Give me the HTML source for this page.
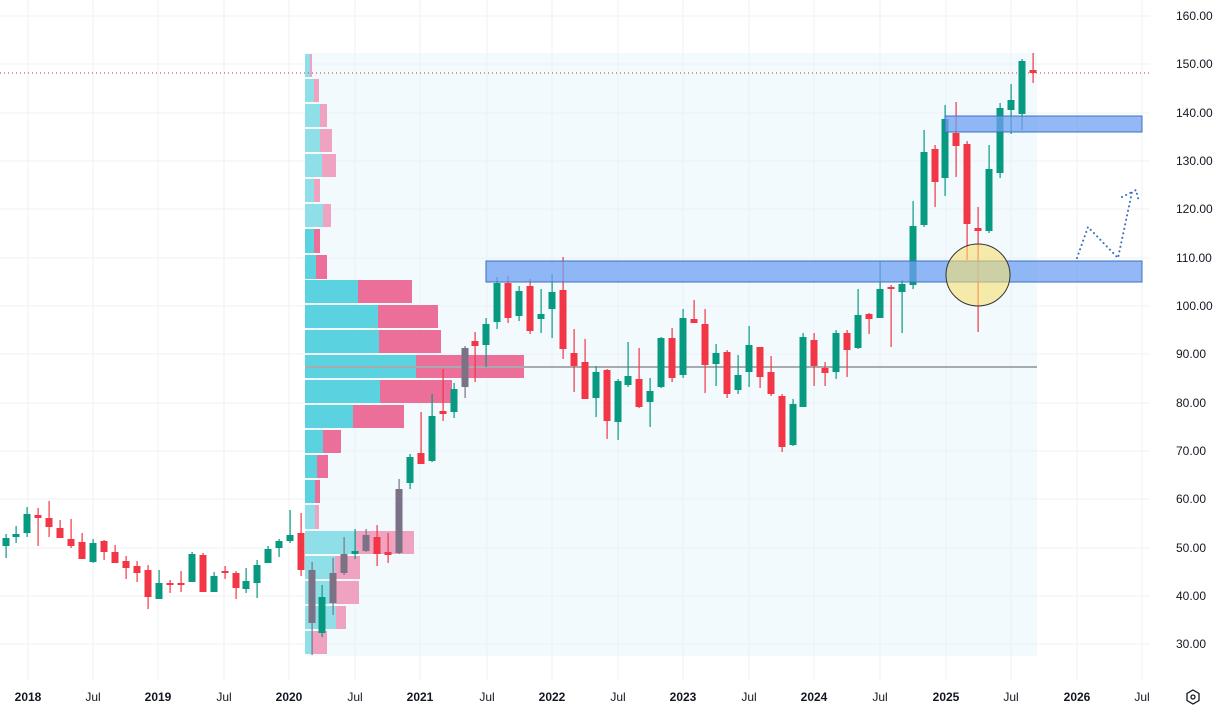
<!DOCTYPE html>
<html><head><meta charset="utf-8"><style>
html,body{margin:0;padding:0;background:#fff;}
svg{display:block;font-family:"Liberation Sans",sans-serif;}
</style></head><body>
<svg id="s" width="1218" height="712" xmlns="http://www.w3.org/2000/svg">
<rect width="1218" height="712" fill="#fff"/>
<g stroke="#eef1f5" stroke-width="1">
<line x1="28" y1="0" x2="28" y2="680"/><line x1="93" y1="0" x2="93" y2="680"/><line x1="158" y1="0" x2="158" y2="680"/><line x1="224" y1="0" x2="224" y2="680"/><line x1="289" y1="0" x2="289" y2="680"/><line x1="355" y1="0" x2="355" y2="680"/><line x1="420" y1="0" x2="420" y2="680"/><line x1="487" y1="0" x2="487" y2="680"/><line x1="552" y1="0" x2="552" y2="680"/><line x1="618" y1="0" x2="618" y2="680"/><line x1="683" y1="0" x2="683" y2="680"/><line x1="749" y1="0" x2="749" y2="680"/><line x1="814" y1="0" x2="814" y2="680"/><line x1="880" y1="0" x2="880" y2="680"/><line x1="946" y1="0" x2="946" y2="680"/><line x1="1011" y1="0" x2="1011" y2="680"/><line x1="1077" y1="0" x2="1077" y2="680"/><line x1="1142" y1="0" x2="1142" y2="680"/>
<line x1="0" y1="16" x2="1150" y2="16"/><line x1="0" y1="64" x2="1150" y2="64"/><line x1="0" y1="113" x2="1150" y2="113"/><line x1="0" y1="161" x2="1150" y2="161"/><line x1="0" y1="209" x2="1150" y2="209"/><line x1="0" y1="258" x2="1150" y2="258"/><line x1="0" y1="306" x2="1150" y2="306"/><line x1="0" y1="354" x2="1150" y2="354"/><line x1="0" y1="403" x2="1150" y2="403"/><line x1="0" y1="451" x2="1150" y2="451"/><line x1="0" y1="499" x2="1150" y2="499"/><line x1="0" y1="548" x2="1150" y2="548"/><line x1="0" y1="596" x2="1150" y2="596"/><line x1="0" y1="644" x2="1150" y2="644"/>
</g>
<rect x="305" y="53" width="732" height="603" fill="#e3f4fc" fill-opacity="0.45"/>
<g id="prof"></g>
<line x1="305" y1="367" x2="1037" y2="367" stroke="#a8aaad" stroke-width="2"/>
<line x1="0" y1="73" x2="1150" y2="73" stroke="#c0392b" stroke-width="1" stroke-dasharray="1,3"/>
<g id="c"></g>
<rect x="486" y="261" width="656" height="21" fill="#6fa0f2" fill-opacity="0.75" stroke="#3d6fc0" stroke-width="1"/>
<rect x="945" y="116" width="197" height="16" fill="#6fa0f2" fill-opacity="0.75" stroke="#3d6fc0" stroke-width="1"/>
<ellipse cx="978" cy="275" rx="32" ry="31" fill="#f7e070" fill-opacity="0.6" stroke="#333" stroke-width="1"/>
<polyline points="1077,258 1088,227 1118,258 1132,192 1136,190 1139,202" fill="none" stroke="#3d6fc0" stroke-width="2" stroke-dasharray="0.1,4.5" stroke-linecap="round"/>
<polyline points="1122,197 1132,192" fill="none" stroke="#3d6fc0" stroke-width="2" stroke-dasharray="0.1,4.5" stroke-linecap="round"/>
<g font-size="12" fill="#131722" text-anchor="start">
<text x="1176" y="20">160.00</text><text x="1176" y="68">150.00</text><text x="1176" y="117">140.00</text><text x="1176" y="165">130.00</text><text x="1176" y="213">120.00</text><text x="1176" y="262">110.00</text><text x="1176" y="310">100.00</text><text x="1176" y="358">90.00</text><text x="1176" y="407">80.00</text><text x="1176" y="455">70.00</text><text x="1176" y="503">60.00</text><text x="1176" y="552">50.00</text><text x="1176" y="600">40.00</text><text x="1176" y="648">30.00</text>
</g>
<g font-size="12" fill="#131722" text-anchor="middle">
<text x="28" y="701" font-weight="bold">2018</text><text x="93" y="701">Jul</text><text x="158" y="701" font-weight="bold">2019</text><text x="224" y="701">Jul</text><text x="289" y="701" font-weight="bold">2020</text><text x="355" y="701">Jul</text><text x="420" y="701" font-weight="bold">2021</text><text x="487" y="701">Jul</text><text x="552" y="701" font-weight="bold">2022</text><text x="618" y="701">Jul</text><text x="683" y="701" font-weight="bold">2023</text><text x="749" y="701">Jul</text><text x="814" y="701" font-weight="bold">2024</text><text x="880" y="701">Jul</text><text x="946" y="701" font-weight="bold">2025</text><text x="1011" y="701">Jul</text><text x="1077" y="701" font-weight="bold">2026</text><text x="1142" y="701">Jul</text>
</g>
<polygon points="1193,690 1199,693.5 1199,700.5 1193,704 1187,700.5 1187,693.5" fill="none" stroke="#131722" stroke-width="1.3"/>
<circle cx="1193" cy="697" r="2" fill="none" stroke="#131722" stroke-width="1.3"/>
</svg>
<script>
var NS="http://www.w3.org/2000/svg";
function el(p,t,a){var e=document.createElementNS(NS,t);for(var k in a)e.setAttribute(k,a[k]);p.appendChild(e);return e;}
var prof=document.getElementById("prof");
var rows=[[54,77,310,312,1],[79,102,314,319,1],[104,127,320,327,1],[129,152,320,332,1],[154,177,322,336,1],[179,202,314,320,1],[204,227,323,331,1],
[229,253,314,320,0],[255,279,316,327,0],[280,303,358,412,0],[305,328,378,438,0],[330,353,379,441,0],[355,378,416,524,0],[380,403,380,452,0],[405,428,353,404,0],[430,453,323,341,0],[455,478,317,328,0],[480,503,315,320,0],
[505,529,315,319,1],[531,554,355,414,1],[556,579,335,360,1],[581,604,335,359,1],[606,629,336,346,1],[631,654,312,327,1]];
rows.forEach(function(r){var c1=r[4]?"#8fdfe9":"#5ad2e0",c2=r[4]?"#f0a3c0":"#ec6f9a";
el(prof,"rect",{x:305,y:r[0],width:r[2]-305,height:r[1]-r[0],fill:c1});
el(prof,"rect",{x:r[2],y:r[0],width:r[3]-r[2],height:r[1]-r[0],fill:c2});});
var C=[[6,534,538,546,558,"g"],[16,526,534,537,543,"g"],[27,507,514,533,537,"g"],[38,508,515,518,546,"r"],[49,501,518,527,537,"r"],[60,520,528,538,538,"r"],[71,519,539,546,548,"r"],[82,533,542,559,559,"r"],[93,539,543,562,563,"g"],[104,540,541,552,560,"r"],[115,545,552,563,563,"r"],[126,556,561,568,579,"r"],[137,561,566,573,582,"r"],[148,565,570,597,609,"r"],[159,570,583,599,599,"g"],[170,580,583,585,593,"r"],[181,571,583,585,592,"r"],[192,552,554,582,582,"g"],[203,553,555,592,592,"r"],[214,572,576,592,592,"g"],[225,566,571,573,579,"r"],[236,571,573,588,599,"r"],[246,568,581,589,593,"g"],[257,560,565,583,598,"g"],[268,546,549,563,563,"g"],[279,539,541,548,557,"g"],[290,510,535,541,543,"g"],[301,513,533,570,576,"r"],
[312,562,570,623,655,"k"],[322,585,597,633,637,"g"],[333,558,573,603,615,"k"],[344,537,554,573,575,"k"],[355,529,551,554,559,"g"],[366,529,535,551,552,"k"],[377,525,537,554,566,"r"],[388,533,552,555,563,"r"],[399,479,489,553,554,"k"],[410,454,457,483,489,"g"],[421,412,453,464,464,"r"],[432,394,416,461,462,"g"],[443,369,411,414,421,"r"],[454,383,389,412,418,"g"],[465,346,348,387,398,"k"],[475,332,341,346,382,"r"],[486,318,324,345,367,"g"],[497,277,283,322,329,"g"],[508,276,283,318,323,"r"],[519,286,291,316,321,"g"],[530,279,286,331,334,"r"],[541,289,314,319,333,"g"],[552,274,292,309,338,"g"],[563,257,290,349,359,"r"],[574,329,353,366,392,"r"],[585,339,362,399,399,"r"],[596,366,372,398,417,"g"],[607,369,370,421,439,"r"],[618,379,381,422,440,"g"],[628,342,376,385,387,"g"],[639,348,379,407,408,"r"],[650,378,391,402,427,"g"],[661,337,338,387,388,"g"],[672,328,338,378,382,"r"],[683,309,318,375,378,"g"],[694,300,319,323,323,"r"],[705,309,324,365,393,"r"],[716,344,353,364,386,"g"],[727,350,352,394,398,"r"],[738,355,375,390,394,"g"],[749,326,345,372,387,"g"],[760,347,347,377,388,"r"],[771,356,372,394,396,"r"],[782,394,396,447,452,"r"],[793,399,404,445,446,"g"],[803,333,337,407,407,"g"],[814,333,340,366,386,"r"],[825,362,368,373,386,"r"],[836,330,333,372,379,"g"],[847,330,333,350,377,"r"],[858,289,315,348,349,"g"],[869,313,314,319,334,"r"],[880,262,289,318,318,"g"],[891,285,287,289,347,"r"],[902,280,284,292,333,"g"],[913,201,226,285,289,"g"],[924,130,152,225,227,"g"],[935,145,149,182,207,"r"],[945,105,119,178,196,"g"],[956,102,133,146,177,"r"],[967,141,144,224,260,"r"],[978,207,228,231,332,"r"],[989,145,169,231,233,"g"],[1000,103,108,173,178,"g"],[1011,84,100,110,134,"g"],[1022,59,61,114,130,"g"],[1033,53,70,73,83,"r"]];
var col={g:"#089981",r:"#f23645",k:"#7b7385"};
var cg=document.getElementById("c");
C.forEach(function(d){var c=col[d[5]];
el(cg,"rect",{x:d[0]-0.5,y:d[1],width:1.2,height:Math.max(1,d[4]-d[1]),fill:c});
el(cg,"rect",{x:d[0]-3.5,y:d[2],width:7,height:Math.max(2,d[3]-d[2]),fill:c});});
</script>
</body></html>
